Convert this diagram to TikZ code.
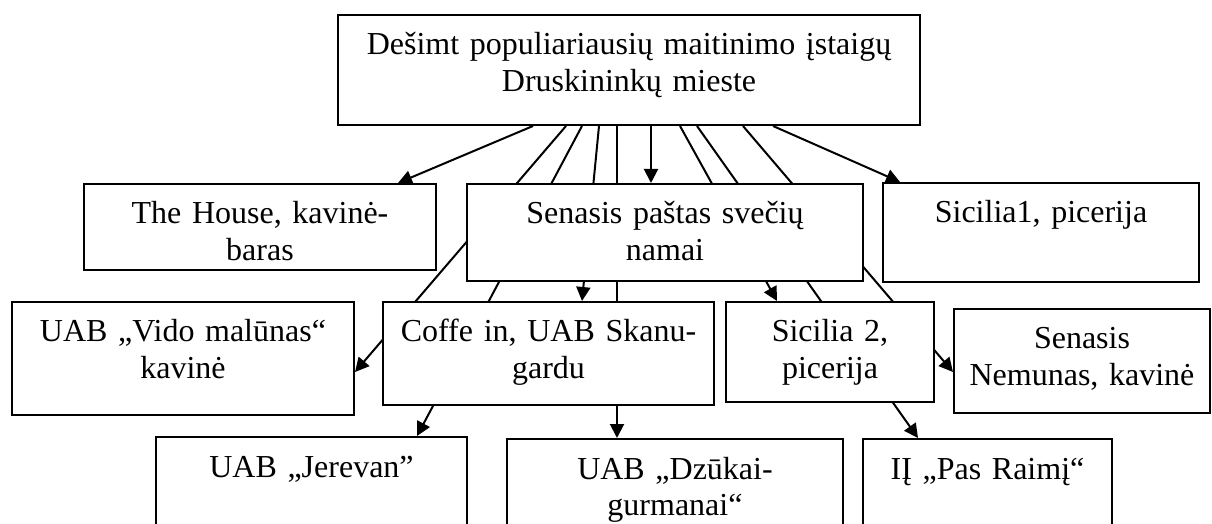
\documentclass[tikz,border=0pt]{standalone}
\usepackage{fontspec}
\setmainfont{Liberation Serif}
\usetikzlibrary{arrows.meta,backgrounds}
\begin{document}
\begin{tikzpicture}[x=0.5pt,y=-0.5pt,
    orgbox/.style={draw, line width=1pt, fill=white, anchor=north west,
      inner sep=0pt, text height=20pt, align=center,
      font=\fontsize{16pt}{18.3pt}\selectfont},
    link/.style={line width=1pt, -{Triangle[length=7pt,width=7pt]}}]
  \useasboundingbox (0,0) rectangle (1212,524);
  \clip (0,0) rectangle (1212,524);

  % Box: root
  \node[orgbox, text width=291pt, text depth=35pt] (root) at (337,14)
    {Dešimt populiariausių maitinimo įstaigų\\Druskininkų mieste};

  % Boxes: second row
  \node[orgbox, text width=176pt, text depth=23pt] (house) at (83,183)
    {The House, kavinė-\\baras};
  \node[orgbox, text width=198pt, text depth=28.5pt] (senasis) at (466,183)
    {Senasis paštas svečių\\namai};
  \node[orgbox, text width=158pt, text depth=29.5pt] (sicilia1) at (882,182)
    {Sicilia1, picerija};

  % Boxes: third row
  \node[orgbox, text width=171pt, text depth=36.5pt] (vido) at (11,301)
    {UAB „Vido malūnas“\\kavinė};
  \node[orgbox, text width=165.5pt, text depth=31.5pt] (coffe) at (382,301)
    {Coffe in, UAB Skanu-\\gardu};
  \node[orgbox, text width=104pt, text depth=30pt] (sicilia2) at (725,301)
    {Sicilia 2,\\picerija};
  \node[orgbox, text width=128pt, text depth=32pt] (nemunas) at (953,308)
    {Senasis\\Nemunas, kavinė};

  % Boxes: fourth row (cut by the page edge)
  \node[orgbox, text width=155.5pt, text depth=42pt] (jerevan) at (155,436)
    {UAB „Jerevan”};
  \node[orgbox, text width=168pt, text depth=42pt] (dzukai) at (506,438)
    {UAB „Dzūkai-\\gurmanai“};
  \node[orgbox, text width=124.5pt, text depth=42pt] (raimi) at (862,438)
    {IĮ „Pas Raimį“};

  % Drawing arrows from root (behind the boxes)
  \begin{scope}[on background layer]
    \draw[link] (root.south -| 533,0) -- (house.north -| 398,0);
    \draw[link] (root.south -| 566,0) -- (vido.east |- 0,372);
    \draw[link] (root.south -| 582,0) -- (jerevan.north -| 417,0);
    \draw[link] (root.south -| 599,0) -- (coffe.north -| 582,0);
    \draw[link] (root.south -| 617,0) -- (dzukai.north -| 617,0);
    \draw[link] (root.south -| 651,0) -- (senasis.north -| 651,0);
    \draw[link] (root.south -| 680,0) -- (sicilia2.north -| 777,0);
    \draw[link] (root.south -| 697,0) -- (raimi.north -| 918,0);
    \draw[link] (root.south -| 743,0) -- (nemunas.west |- 0,372);
    \draw[link] (root.south -| 773,0) -- (sicilia1.north -| 900,0);
  \end{scope}
\end{tikzpicture}
\end{document}
